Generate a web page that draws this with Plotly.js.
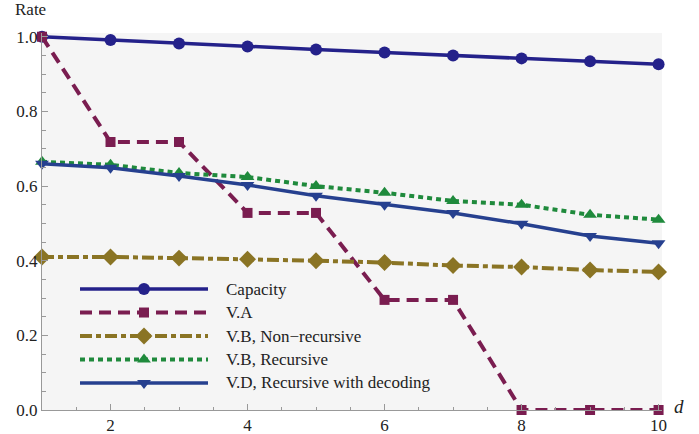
<!DOCTYPE html>
<html><head><meta charset="utf-8">
<script src="https://cdn.plot.ly/plotly-3.0.1.min.js"></script>
<style>html,body{margin:0;padding:0;background:#fff}#c{width:699px;height:434px}</style>
</head><body><div id="c"></div>
<script>
const d = [1,2,3,4,5,6,7,8,9,10];
const capacity = [1.0,0.991,0.982,0.974,0.966,0.958,0.950,0.942,0.934,0.926];
const vA = [1.0,0.718,0.718,0.528,0.528,0.295,0.295,0.0,0.0,0.0];
const vBnon = [0.41,0.41,0.407,0.404,0.40,0.395,0.387,0.383,0.375,0.37];
const vBrec = [0.665,0.657,0.635,0.624,0.60,0.582,0.56,0.55,0.523,0.51];
const vD = [0.66,0.649,0.627,0.603,0.574,0.55,0.528,0.499,0.466,0.447];
const names = ["Capacity","V.A","V.B, Non\u2212recursive","V.B, Recursive","V.D, Recursive with decoding"];
const series = [capacity,vA,vBnon,vBrec,vD];
const colors = ["#24218a","#7a1d50","#8a7424","#1f8a3c","#26408f"];
const symbols = ["circle","square","diamond","triangle-up","triangle-down"];
const msizes = [12,10,13,12,12];
const dashes = ["solid","12px,7px","12px,4px,5px,4px","5px,4px","solid"];
const widths = [3.5,4,4,4,3.5];
const FONT = 'Liberation Serif';

const traces = series.map((s,i)=>({
  x:d, y:s, type:'scatter', mode:'lines+markers', name:names[i],
  line:{color:colors[i], width:widths[i], dash:dashes[i]},
  marker:{symbol:symbols[i], size:msizes[i], color:colors[i]},
  showlegend:false, cliponaxis:false
}));
// custom legend on overlay axes
const annotations = [];
names.forEach((n,i)=>{
  const yy = 4 - i;
  traces.push({x:[0,1], y:[yy,yy], xaxis:'x2', yaxis:'y2', type:'scatter', mode:'lines',
    line:{color:colors[i], width:widths[i], dash:dashes[i]}, showlegend:false, hoverinfo:'skip'});
  traces.push({x:[0.5], y:[yy], xaxis:'x2', yaxis:'y2', type:'scatter', mode:'markers',
    marker:{symbol:symbols[i], size:msizes[i], color:colors[i]}, showlegend:false, hoverinfo:'skip'});
});
const y2dom = [(410-390)/377,(410-282)/377];
names.forEach((n,i)=>{
  const yy = 4 - i;
  const py = y2dom[0] + (yy+0.3)/4.6*(y2dom[1]-y2dom[0]);
  annotations.push({xref:'paper', yref:'paper', x:(224-42)/620, y:py, text:n, showarrow:false, xanchor:'left', yanchor:'middle',
    font:{family:FONT, size:17, color:'#222'}});
});
annotations.push({xref:'paper', yref:'paper', x:-0.046, y:1.033, text:'Rate', showarrow:false, xanchor:'left', yanchor:'bottom',
  font:{family:FONT, size:17, color:'#222'}});
annotations.push({xref:'paper', yref:'paper', x:1.016, y:0.01, text:'<i>d</i>', showarrow:false, xanchor:'left', yanchor:'middle',
  font:{family:FONT, size:19, color:'#222'}});

const layout = {
  width:699, height:434, margin:{l:42, r:37, t:33, b:24},
  paper_bgcolor:'#fff', plot_bgcolor:'#f5f5f5',
  font:{family:FONT, size:17, color:'#222'},
  xaxis:{range:[1,10.05], tickvals:[2,4,6,8,10], ticks:'inside', ticklen:6, tickcolor:'#999', tickwidth:1,
    showgrid:false, zeroline:false, showline:true, linecolor:'#999', linewidth:1,
    minor:{dtick:0.5, tick0:0, ticks:'inside', ticklen:3.5, tickcolor:'#999', showgrid:false},
    tickfont:{family:FONT, size:17, color:'#222'}},
  yaxis:{range:[0,1.01], tickvals:[0,0.2,0.4,0.6,0.8,1.0], ticktext:['0.0','0.2','0.4','0.6','0.8','1.0'],
    ticks:'inside', ticklen:6, tickcolor:'#999', tickwidth:1,
    showgrid:false, zeroline:false, showline:true, linecolor:'#999', linewidth:1,
    minor:{dtick:0.05, tick0:0, ticks:'inside', ticklen:3.5, tickcolor:'#999', showgrid:false},
    tickfont:{family:FONT, size:17, color:'#222'}},
  xaxis2:{domain:[(80-42)/620,(208-42)/620], range:[0,1], visible:false, fixedrange:true, anchor:'y2'},
  yaxis2:{domain:y2dom, range:[-0.3,4.3], visible:false, fixedrange:true, anchor:'x2'},
  annotations:annotations
};
Plotly.newPlot('c', traces, layout, {displayModeBar:false, staticPlot:true});
</script></body></html>
